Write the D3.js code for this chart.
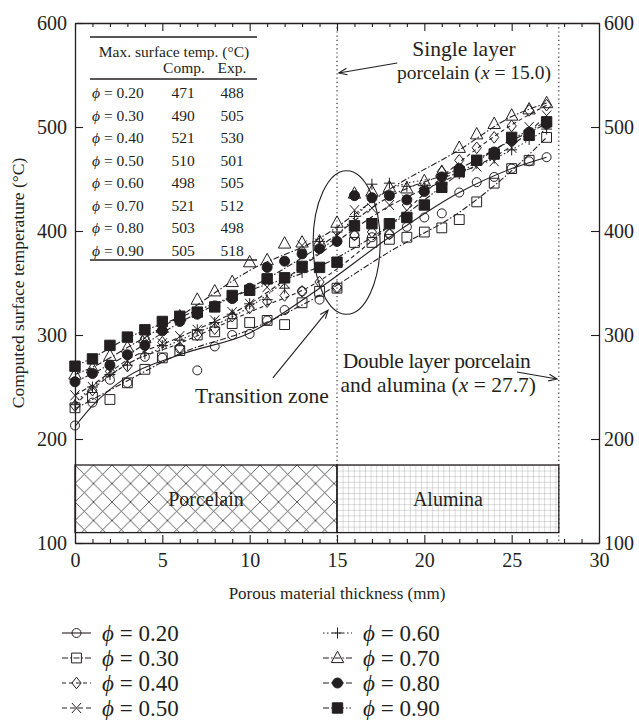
<!DOCTYPE html>
<html><head><meta charset="utf-8">
<script src="https://cdn.jsdelivr.net/npm/d3@7"></script>
<style>body{margin:0;background:#fff}text{font-family:"Liberation Serif","DejaVu Serif",serif;fill:#231f20}</style>
</head><body><svg id="c" width="639" height="720"></svg>
<script>
// ---------- data: measured points ----------
const thickness = [0,1,2,3,4,5,6,7,8,9,10,11,12,13,14,15,16,17,18,19,20,21,22,23,24,25,26,27];
const phi20 = [213,235,257,254,279,278,287,266,289,300,301,314,324,342,334,345,396,394,397,404,413,417,437,447,452,460,467,471];
const phi30 = [230,240,238,254,267,278,285,300,303,311,312,314,310,331,342,345,389,389,392,394,399,403,411,428,446,460,468,490];
const phi40 = [232,247,265,270,297,293,288,300,306,318,326,332,338,342,351,346,396,399,397,425,441,457,468,480,490,501,516,521];
const phi50 = [242,250,265,275,297,292,299,305,314,322,330,346,350,386,388,395,420,422,425,430,441,448,456,462,467,480,500,511];
const phi60 = [233,250,262,271,282,290,295,305,312,320,330,334,345,360,390,399,414,445,446,443,441,445,455,465,470,478,488,498];
const phi70 = [262,268,280,288,297,307,318,334,342,351,370,372,388,389,390,408,436,438,442,441,448,457,480,493,503,511,517,523];
const phi80 = [255,263,271,281,290,304,313,320,328,335,345,365,371,378,383,390,434,432,434,430,438,452,460,468,476,487,495,503];
const phi90 = [270,277,290,298,305,313,318,322,327,338,343,354,355,366,365,370,405,407,407,413,425,442,457,468,474,490,492,505];
// ---------- data: trend lines ----------
const fitThickness = [0,1,3,6,10,14,18,22,25,27];
const fit20 = [212,232,260,281,302,345,394,437,460,471];
const fit30 = [229,238,256,282,305,338,380,418,458,490];
const fit40 = [233,248,272,292,322,352,405,466,502,521];
const fit50 = [242,252,276,298,330,378,424,455,482,511];
const fit60 = [235,250,272,295,327,380,440,456,478,498];
const fit70 = [262,269,288,318,362,393,440,478,510,523];
const fit80 = [255,263,281,312,345,385,433,460,487,503];
const fit90 = [270,278,297,317,343,366,405,455,488,505];

const seriesLabels = ["0.20","0.30","0.40","0.50","0.60","0.70","0.80","0.90"];
const seriesValues = [phi20,phi30,phi40,phi50,phi60,phi70,phi80,phi90];
const fitValues = [fit20,fit30,fit40,fit50,fit60,fit70,fit80,fit90];

const tablePhi  = ["0.20","0.30","0.40","0.50","0.60","0.70","0.80","0.90"];
const tableComp = [471,490,521,510,498,521,503,505];
const tableExp  = [488,505,530,501,505,512,498,518];

const xTicks = [0,5,10,15,20,25,30];
const yTicks = [100,200,300,400,500,600];
const layerBounds = [0,15,27.7];
const layerNames = ["Porcelain","Alumina"];
const layerBand = [110,175];

// ---------- styles ----------
const ink = "#231f20";
const markerTypes = ["circle","square","diamond","cross","plus","triangle","dot","block"];
const dashes = ["", "6,2,1.5,2", "4,3", "5,3", "1.5,2.5", "6,2,1.5,2", "6,2,1.5,2", "6,2,1.5,2,1.5,2"];

const svg = d3.select("#c");
const x = d3.scaleLinear().domain([0,30]).range([75,599]);
const y = d3.scaleLinear().domain([100,600]).range([543,23]);

// ---------- patterns ----------
const defs = svg.append("defs");
const ph = defs.append("pattern").attr("id","cross").attr("patternUnits","userSpaceOnUse")
  .attr("width",18.5).attr("height",18.5).attr("x",x(0)).attr("y",y(layerBand[1]));
ph.append("path").attr("d","M0,0L18.5,18.5M18.5,0L0,18.5M-1,17.5L1,19.5M17.5,-1L19.5,1")
  .attr("stroke","#333").attr("stroke-width",0.8).attr("fill","none");
const pg = defs.append("pattern").attr("id","grid").attr("patternUnits","userSpaceOnUse")
  .attr("width",5.6).attr("height",5.6).attr("x",x(15)).attr("y",y(layerBand[1]));
pg.append("path").attr("d","M0,0L5.6,0M0,0L0,5.6").attr("stroke","#8a8a8a").attr("stroke-width",0.6).attr("fill","none");

// ---------- layer boxes ----------
const boxes = svg.append("g");
[0,1].forEach(i=>{
  boxes.append("rect").attr("x",x(layerBounds[i])).attr("y",y(layerBand[1]))
    .attr("width",x(layerBounds[i+1])-x(layerBounds[i])).attr("height",y(layerBand[0])-y(layerBand[1]))
    .attr("fill", i===0?"url(#cross)":"url(#grid)").attr("stroke",ink).attr("stroke-width",1.3);
  boxes.append("text").attr("x",(x(layerBounds[i])+x(layerBounds[i+1]))/2)
    .attr("y",(y(layerBand[0])+y(layerBand[1]))/2).attr("dy","0.35em")
    .attr("text-anchor","middle").attr("font-size",20).text(layerNames[i]);
});

// ---------- dotted verticals ----------
[15,27.7].forEach(v=>{
  svg.append("line").attr("x1",x(v)).attr("x2",x(v)).attr("y1",y(600)).attr("y2",y(100))
    .attr("stroke",ink).attr("stroke-width",1.1).attr("stroke-dasharray","1.2,3");
});

// ---------- axes ----------
function styleAxis(g){
  g.selectAll(".domain").attr("stroke",ink).attr("stroke-width",1.3);
  g.selectAll(".tick line").attr("stroke",ink).attr("stroke-width",1.1);
  g.selectAll(".tick text").attr("font-size",20).attr("fill",ink)
   .attr("font-family","'Liberation Serif','DejaVu Serif',serif");
}
const minorX = d3.range(0,31).filter(v=>v%5!==0);
styleAxis(svg.append("g").attr("transform",`translate(0,${y(100)})`)
  .call(d3.axisBottom(x).tickValues(xTicks).tickSizeInner(-8).tickSizeOuter(0).tickPadding(10)));
styleAxis(svg.append("g").attr("transform",`translate(0,${y(100)})`)
  .call(d3.axisBottom(x).tickValues(minorX).tickSizeInner(-4).tickFormat("")).call(g=>g.select(".domain").remove()));
styleAxis(svg.append("g").attr("transform",`translate(0,${y(600)})`)
  .call(d3.axisTop(x).tickValues(xTicks).tickSizeInner(-8).tickSizeOuter(0).tickFormat("")));
styleAxis(svg.append("g").attr("transform",`translate(0,${y(600)})`)
  .call(d3.axisTop(x).tickValues(minorX).tickSizeInner(-4).tickFormat("")).call(g=>g.select(".domain").remove()));
styleAxis(svg.append("g").attr("transform",`translate(${x(0)},0)`)
  .call(d3.axisLeft(y).tickValues(yTicks).tickSizeInner(-8).tickSizeOuter(0).tickPadding(8)));
styleAxis(svg.append("g").attr("transform",`translate(${x(30)},0)`)
  .call(d3.axisRight(y).tickValues(yTicks).tickSizeInner(-8).tickSizeOuter(0).tickPadding(5)));

svg.append("text").attr("x",x(15)).attr("y",599).attr("text-anchor","middle").attr("font-size",17)
  .text("Porous material thickness (mm)");
svg.append("text").attr("transform",`translate(24,${y(350)}) rotate(-90)`).attr("text-anchor","middle")
  .attr("font-size",17.5).text("Computed surface temperature (°C)");

// ---------- markers ----------
function marker(g,type,cx,cy){
  const p = g.append("path").attr("stroke",ink).attr("stroke-width",1).attr("fill","none");
  let d="";
  switch(type){
    case "circle": d=`M${cx+4.5},${cy}A4.5,4.5 0 1 1 ${cx-4.5},${cy}A4.5,4.5 0 1 1 ${cx+4.5},${cy}Z`; break;
    case "square": d=`M${cx-4.9},${cy-4.9}h9.8v9.8h-9.8Z`; break;
    case "diamond": d=`M${cx},${cy-5.8}L${cx+4.6},${cy}L${cx},${cy+5.8}L${cx-4.6},${cy}Z`; break;
    case "cross": d=`M${cx-4.6},${cy-5}L${cx+4.6},${cy+5}M${cx+4.6},${cy-5}L${cx-4.6},${cy+5}`; break;
    case "plus": d=`M${cx-5.5},${cy}L${cx+5.5},${cy}M${cx},${cy-5.5}L${cx},${cy+5.5}`; break;
    case "triangle": d=`M${cx},${cy-6.8}L${cx+6.2},${cy+4.6}L${cx-6.2},${cy+4.6}Z`; break;
    case "dot": d=`M${cx+5},${cy}A5,5 0 1 1 ${cx-5},${cy}A5,5 0 1 1 ${cx+5},${cy}Z`; p.attr("fill",ink); break;
    case "block": d=`M${cx-5.2},${cy-5.2}h10.4v10.4h-10.4Z`; p.attr("fill",ink); break;
  }
  p.attr("d",d);
}

// ---------- series ----------
const line = d3.line().x((d,i)=>x(fitThickness[i])).y(d=>y(d)).curve(d3.curveMonotoneX);
const gl = svg.append("g");
fitValues.forEach((vals,si)=>{
  gl.append("path").attr("d",line(vals)).attr("fill","none").attr("stroke",ink)
    .attr("stroke-width",1.1).attr("stroke-dasharray",dashes[si]);
});
const gm = svg.append("g");
seriesValues.forEach((vals,si)=>{
  vals.forEach((v,i)=>marker(gm,markerTypes[si],x(thickness[i]),y(v)));
});

// ---------- table ----------
const tg = svg.append("g");
const tL = 90, tR = 257;
[37,79,260].forEach(yy=>tg.append("line").attr("x1",tL).attr("x2",tR).attr("y1",yy).attr("y2",yy)
  .attr("stroke",ink).attr("stroke-width",1.3));
tg.append("text").attr("x",174).attr("y",57).attr("text-anchor","middle").attr("font-size",15.5)
  .text("Max. surface temp. (°C)");
tg.append("text").attr("x",184).attr("y",73).attr("text-anchor","middle").attr("font-size",15.5).text("Comp.");
tg.append("text").attr("x",232).attr("y",73).attr("text-anchor","middle").attr("font-size",15.5).text("Exp.");
tablePhi.forEach((p,i)=>{
  const yy = 98 + i*22.5;
  const t = tg.append("text").attr("x",92).attr("y",yy).attr("font-size",15.5);
  t.append("tspan").attr("font-style","italic").text("ϕ");
  t.append("tspan").text(" = "+p);
  tg.append("text").attr("x",183).attr("y",yy).attr("text-anchor","middle").attr("font-size",15.5).text(tableComp[i]);
  tg.append("text").attr("x",232).attr("y",yy).attr("text-anchor","middle").attr("font-size",15.5).text(tableExp[i]);
});

// ---------- annotations ----------
function arrow(x1,y1,x2,y2){
  const ang = Math.atan2(y2-y1,x2-x1), L=9, a=0.38;
  svg.append("path").attr("fill","none").attr("stroke",ink).attr("stroke-width",1.1)
    .attr("d",`M${x1},${y1}L${x2},${y2}M${x2-L*Math.cos(ang-a)},${y2-L*Math.sin(ang-a)}L${x2},${y2}L${x2-L*Math.cos(ang+a)},${y2-L*Math.sin(ang+a)}`);
}
function mathText(xx,yy,anchor,parts,size,len){
  const t = svg.append("text").attr("x",xx).attr("y",yy).attr("text-anchor",anchor).attr("font-size",size||21.5);
  if(len) t.attr("textLength",len).attr("lengthAdjust","spacing");
  parts.forEach(([s,it])=>t.append("tspan").attr("font-style",it?"italic":null).text(s));
}
mathText(x(22.27),y(568),"middle",[["Single layer",0]]);
mathText(x(22.84),y(546),"middle",[["porcelain (",0],["x",1],[" = 15.0)",0]],19.5);
arrow(x(18.45),y(561.5),x(15.1),y(552));
svg.append("ellipse").attr("cx",x(15.55)).attr("cy",y(389)).attr("rx",x(15.55+1.92)-x(15.55))
  .attr("ry",y(389-69)-y(389)).attr("fill","none").attr("stroke",ink).attr("stroke-width",1.1);
mathText(x(15.33),y(268),"start",[["Double layer porcelain",0]],21.5,188);
mathText(x(15.2),y(245),"start",[["and alumina (",0],["x",1],[" = 27.7)",0]]);
arrow(x(25.3),y(264.4),x(27.6),y(257.7));
mathText(x(10.7),y(234.6),"middle",[["Transition zone",0]]);
arrow(x(11.33),y(258.7),x(14.49),y(324));

// ---------- legend ----------
const legRows = [633,658,683,708];
seriesLabels.forEach((lab,i)=>{
  const col = Math.floor(i/4), row = i%4;
  const x0 = col===0?62:323, yy = legRows[row];
  svg.append("line").attr("x1",x0).attr("x2",x0+29).attr("y1",yy).attr("y2",yy)
    .attr("stroke",ink).attr("stroke-width",1.1).attr("stroke-dasharray",dashes[i]);
  marker(svg,markerTypes[i],x0+14.5,yy);
  const t = svg.append("text").attr("x",x0+40).attr("y",yy).attr("dy","0.35em").attr("font-size",23);
  t.append("tspan").attr("font-style","italic").text("ϕ");
  t.append("tspan").text(" = "+lab);
});
</script></body></html>
